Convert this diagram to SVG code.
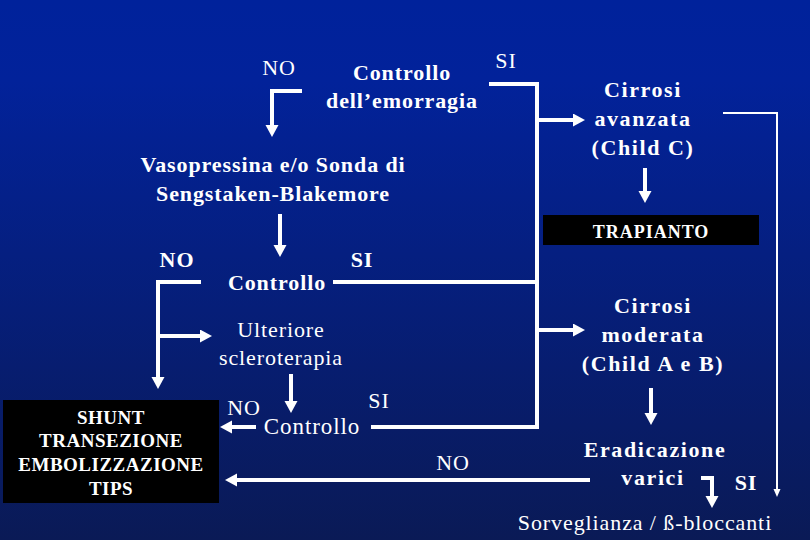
<svg xmlns="http://www.w3.org/2000/svg" width="810" height="540" viewBox="0 0 810 540">
<defs>
<linearGradient id="bg" x1="0" y1="0" x2="0" y2="1">
<stop offset="0" stop-color="#00229b"/>
<stop offset="0.15" stop-color="#02229a"/>
<stop offset="1" stop-color="#0a1a56"/>
</linearGradient>
<marker id="ah" markerUnits="userSpaceOnUse" markerWidth="14" markerHeight="14" refX="1" refY="6.5" orient="auto">
<path d="M0,0 L12,6.5 L0,13 z" fill="#fff"/>
</marker>
<marker id="ahs" markerUnits="userSpaceOnUse" markerWidth="10" markerHeight="10" refX="1" refY="3.5" orient="auto">
<path d="M0,0 L8,3.5 L0,7 z" fill="#fff"/>
</marker>
<style>
text{font-family:'Liberation Serif','DejaVu Serif',serif;fill:#fff;font-size:22px;text-anchor:middle;letter-spacing:0.9px}
.b{font-weight:bold}
.w{letter-spacing:1.6px}
.box{fill:#000}
.bx{font-size:19px;font-weight:bold;letter-spacing:0.5px}
.c{fill:none;stroke:#fff;stroke-width:4}
.a{marker-end:url(#ah)}
.t{fill:none;stroke:#fff;stroke-width:2;marker-end:url(#ahs)}
</style>
</defs>
<rect width="810" height="540" fill="url(#bg)"/>

<g id="connectors">
<path class="c a" d="M302,91 H272 V126"/>
<path class="c" d="M489,84 H537 V427 H371"/>
<path class="c a" d="M537,120 H574"/>
<path class="c a" d="M537,330 H574"/>
<path class="c" d="M333,282 H537"/>
<path class="c a" d="M280,214 V246"/>
<path class="c a" d="M201,282 H158 V378"/>
<path class="c a" d="M158,336 H201"/>
<path class="c a" d="M291,374 V402"/>
<path class="c a" d="M256,427 H231"/>
<path class="c a" d="M590,480 H236"/>
<path class="c a" d="M645,168 V192"/>
<path class="c a" d="M651,388 V414"/>
<path class="c a" d="M701,478 H712 V497"/>
<path class="t" d="M723,113 H777 V490"/>
</g>

<g id="no1"><text x="279" y="75">NO</text></g>
<g id="si1"><text x="506" y="68">SI</text></g>
<g id="controllo1"><text class="b" x="402" y="80">Controllo</text><text class="b" x="402" y="108">dell’emorragia</text></g>
<g id="vasopressina"><text class="b" x="273" y="172">Vasopressina e/o Sonda di</text><text class="b" x="273" y="201">Sengstaken-Blakemore</text></g>
<g id="no2"><text class="b" x="177" y="267">NO</text></g>
<g id="si2"><text class="b" x="362" y="267">SI</text></g>
<g id="controllo2"><text class="b" x="277" y="290">Controllo</text></g>
<g id="ulteriore"><text x="281" y="337">Ulteriore</text><text x="281" y="365">scleroterapia</text></g>
<g id="no3"><text x="244" y="415">NO</text></g>
<g id="si3"><text x="379" y="408">SI</text></g>
<g id="controllo3"><text x="312" y="434" style="font-size:23px">Controllo</text></g>
<g id="shunt">
<rect class="box" x="3" y="400" width="216" height="103"/>
<text class="bx" x="111" y="424">SHUNT</text>
<text class="bx" x="111" y="447">TRANSEZIONE</text>
<text class="bx" x="111" y="471">EMBOLIZZAZIONE</text>
<text class="bx" x="111" y="495">TIPS</text>
</g>
<g id="no4"><text x="453" y="470">NO</text></g>
<g id="cirrosiC"><text class="b w" x="643" y="97">Cirrosi</text><text class="b w" x="643" y="126">avanzata</text><text class="b w" x="643" y="155">(Child C)</text></g>
<g id="trapianto">
<rect class="box" x="543" y="215" width="216" height="30"/>
<text class="b" x="651" y="238" style="font-size:18px;letter-spacing:1px">TRAPIANTO</text>
</g>
<g id="cirrosiAB"><text class="b w" x="653" y="313">Cirrosi</text><text class="b w" x="653" y="342">moderata</text><text class="b w" x="653" y="371">(Child A e B)</text></g>
<g id="eradicazione"><text class="b w" x="655" y="457">Eradicazione</text><text class="b w" x="653" y="485">varici</text></g>
<g id="si4"><text class="b" x="746" y="490">SI</text></g>
<g id="sorveglianza"><text x="645" y="530">Sorveglianza / ß-bloccanti</text></g>
</svg>
